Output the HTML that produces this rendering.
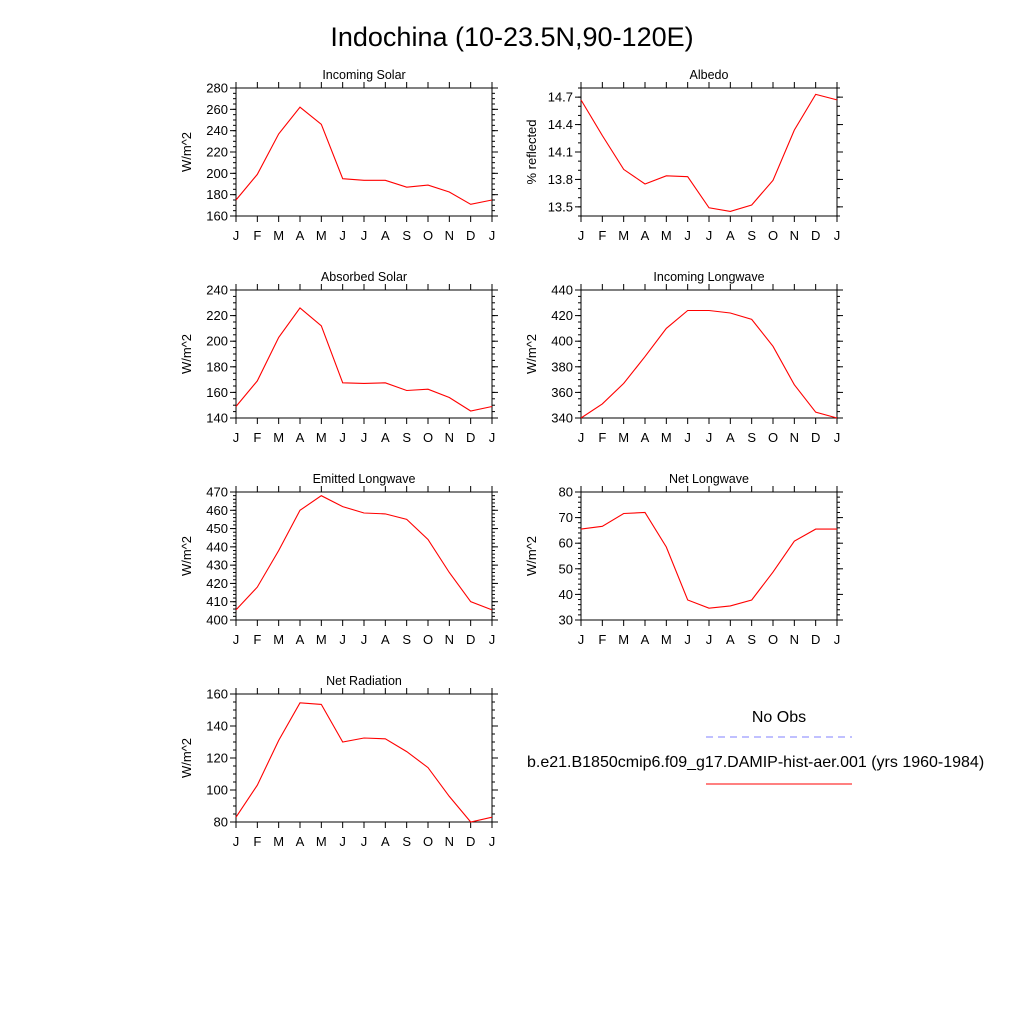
<!DOCTYPE html>
<html><head><meta charset="utf-8"><style>
html,body{margin:0;padding:0;background:#fff;}
svg{display:block;font-family:"Liberation Sans",sans-serif;}
</style></head><body>
<svg id="fig" width="1024" height="1024" viewBox="0 0 1024 1024">
<text x="512" y="46" font-size="27" text-anchor="middle">Indochina (10-23.5N,90-120E)</text>
<g>
<text x="779" y="722" font-size="16" text-anchor="middle">No Obs</text>
<line x1="706" y1="737" x2="852" y2="737" stroke="#8080ff" stroke-width="1" stroke-dasharray="7,5"/>
<text x="527" y="767" font-size="16">b.e21.B1850cmip6.f09_g17.DAMIP-hist-aer.001 (yrs 1960-1984)</text>
<line x1="706" y1="784" x2="852" y2="784" stroke="#ff0000" stroke-width="1"/>
</g>
</svg>
<script>
const months = ["J","F","M","A","M","J","J","A","S","O","N","D","J"];
const incomingSolar = [175,199,237,262,246,195,193.5,193.5,187,189,182.5,171,175];
const albedo = [14.67,14.28,13.91,13.75,13.84,13.83,13.49,13.45,13.52,13.79,14.34,14.73,14.67];
const absorbedSolar = [149,169,203,226,212,167.5,167,167.5,161.5,162.5,156,145.5,149];
const incomingLW = [340,351,367,388,410,424,424,422,417,396,366,344.5,340];
const emittedLW = [405.5,418,438,460,468,462,458.5,458,455,444,426,410,405.5];
const netLW = [65.5,66.6,71.6,72,58.5,37.8,34.6,35.5,37.8,48.7,60.8,65.5,65.5];
const netRad = [83,103,131,154.5,153.5,130,132.5,132,124,114,96,80,83];
const incomingSolarTicks = [160,180,200,220,240,260,280];
const albedoTicks = ["13.5","13.8","14.1","14.4","14.7"];
const absorbedTicks = [140,160,180,200,220,240];
const incomingLWTicks = [340,360,380,400,420,440];
const emittedTicks = [400,410,420,430,440,450,460,470];
const netLWTicks = [30,40,50,60,70,80];
const netRadTicks = [80,100,120,140,160];

const NS="http://www.w3.org/2000/svg";
const svg=document.getElementById('fig');
function mk(tag,attrs,parent){const e=document.createElementNS(NS,tag);for(const k in attrs)e.setAttribute(k,attrs[k]);parent.appendChild(e);return e;}

function panel(name,title,ylabel,data,ticks,ymin,ymax,minor,x0,y0){
  const W=256,H=128;
  const g=mk('g',{},svg);
  
  
  const xs=i=>x0+i*W/12;
  const ys=v=>y0+H-(v-ymin)/(ymax-ymin)*H;
  // minor ticks
  const nMin=Math.round((ymax-ymin)/minor);
  for(let k=0;k<=nMin;k++){
    const y=ys(ymin+k*minor);
    const l=mk('line',{x1:x0-3,y1:y,x2:x0,y2:y,stroke:'#000','stroke-width':1},g);
    
    
    const r=mk('line',{x1:x0+W,y1:y,x2:x0+W+3,y2:y,stroke:'#000','stroke-width':1},g);
    
    
  }
  ticks.forEach(t=>{
    const y=ys(parseFloat(t));
    const l=mk('line',{x1:x0-6,y1:y,x2:x0,y2:y,stroke:'#000','stroke-width':1},g);
    
    
    const r=mk('line',{x1:x0+W,y1:y,x2:x0+W+6,y2:y,stroke:'#000','stroke-width':1},g);
    
    
    const tx=mk('text',{x:x0-8,y:y+4.5,'font-size':13,'text-anchor':'end'},g);
    tx.textContent=t;
    
    
  });
  months.forEach((m,i)=>{
    const x=xs(i);
    const b=mk('line',{x1:x,y1:y0+H,x2:x,y2:y0+H+6,stroke:'#000','stroke-width':1},g);
    
    
    const t=mk('line',{x1:x,y1:y0-6,x2:x,y2:y0,stroke:'#000','stroke-width':1},g);
    
    
    const tx=mk('text',{x:x,y:y0+H+24,'font-size':13,'text-anchor':'middle'},g);
    tx.textContent=m;
    
    
  });
  const box=mk('rect',{x:x0,y:y0,width:W,height:H,fill:'none',stroke:'#000','stroke-width':1},g);
  
  
  const pts=data.map((v,i)=>xs(i).toFixed(1)+','+ys(v).toFixed(1)).join(' ');
  const pl=mk('polyline',{points:pts,fill:'none',stroke:'#ff0000','stroke-width':1.1},g);
  
  
  const tt=mk('text',{x:x0+W/2,y:y0-9,'font-size':12.5,'text-anchor':'middle'},g);
  tt.textContent=title;
  
  
  const yl=mk('text',{x:0,y:0,'font-size':13,'text-anchor':'middle',transform:`translate(${x0-45},${y0+H/2}) rotate(-90)`},g);
  yl.textContent=ylabel;
  
  
}
panel('incoming-solar','Incoming Solar','W/m^2',incomingSolar,incomingSolarTicks,160,280,5,236,88);
panel('albedo','Albedo','% reflected',albedo,albedoTicks,13.4,14.8,0.1,581,88);
panel('absorbed-solar','Absorbed Solar','W/m^2',absorbedSolar,absorbedTicks,140,240,5,236,290);
panel('incoming-longwave','Incoming Longwave','W/m^2',incomingLW,incomingLWTicks,340,440,5,581,290);
panel('emitted-longwave','Emitted Longwave','W/m^2',emittedLW,emittedTicks,400,470,2,236,492);
panel('net-longwave','Net Longwave','W/m^2',netLW,netLWTicks,30,80,2,581,492);
panel('net-radiation','Net Radiation','W/m^2',netRad,netRadTicks,80,160,5,236,694);
</script>
</body></html>
